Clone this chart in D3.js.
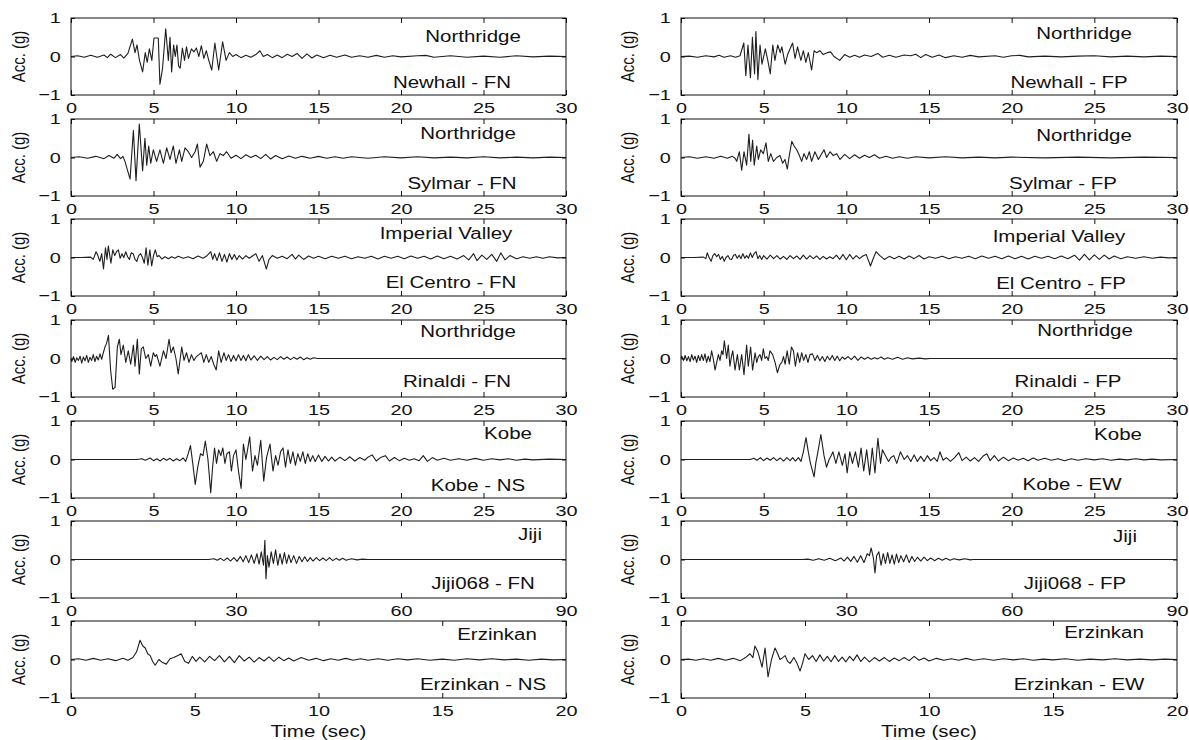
<!DOCTYPE html>
<html>
<head>
<meta charset="utf-8">
<script src="https://cdn.jsdelivr.net/npm/d3@7"></script>
<style>
  body { margin: 0; background: #fff; }
  svg text { font-family: "Liberation Sans", Arial, sans-serif; fill: #111; }
</style>
</head>
<body>
<div id="chart"></div>
<script>
// tick labels
var ticks30 = [0, 5, 10, 15, 20, 25, 30];
var ticks90 = [0, 30, 60, 90];
var ticks20 = [0, 5, 10, 15, 20];
var yTicks = [-1, 0, 1];

// records, [time (sec), acc (g)]
var newhallFN = [[0,0],[0.4,0.02],[0.8,-0.02],[1.2,0.03],[1.6,-0.02],[2.0,0.04],[2.2,-0.03],[2.4,0.06],[2.7,-0.03],[3.0,0.05],[3.2,-0.04],[3.45,0.08],[3.72,0.45],[3.88,0.1],[4.0,0.3],[4.15,-0.1],[4.34,-0.4],[4.5,0.1],[4.62,-0.15],[4.75,0.2],[4.9,-0.1],[5.03,0.48],[5.29,0.48],[5.39,-0.72],[5.55,-0.3],[5.74,0.72],[5.9,-0.1],[6.0,0.5],[6.1,-0.4],[6.22,0.3],[6.32,0.0],[6.42,0.3],[6.52,-0.25],[6.62,-0.3],[6.75,0.22],[6.88,-0.1],[7.0,0.25],[7.12,-0.05],[7.3,0.2],[7.45,0.12],[7.6,0.22],[7.75,0.0],[7.9,0.28],[8.05,-0.05],[8.2,0.15],[8.35,-0.1],[8.53,-0.35],[8.72,0.35],[8.95,-0.35],[9.19,0.38],[9.4,-0.1],[9.6,0.1],[9.8,0.0],[10.0,0.05],[10.3,-0.03],[10.6,0.03],[10.9,-0.02],[11.2,0.05],[11.45,0.15],[11.65,0.0],[11.9,0.05],[12.2,-0.03],[12.5,0.04],[12.8,-0.03],[13.1,0.06],[13.4,0.0],[13.7,0.08],[14.0,-0.05],[14.3,0.07],[14.6,-0.04],[14.9,0.04],[15.3,-0.03],[15.7,0.03],[16.1,-0.02],[16.6,0.04],[17.0,-0.02],[17.5,0.02],[18.0,-0.02],[18.5,0.03],[19.0,-0.02],[19.5,0.02],[20.0,-0.01],[21,0.02],[21.5,0.03],[22,-0.02],[23,0.02],[24,-0.02],[25,0.01],[26,-0.02],[27,0.02],[28,-0.01],[29,0.01],[30,0]];

var newhallFP = [[0,0],[0.5,0.01],[1.0,-0.02],[1.5,0.02],[2.0,-0.01],[2.3,0.03],[2.6,-0.02],[3.0,0.02],[3.3,-0.02],[3.57,0.02],[3.8,0.35],[3.92,-0.5],[4.05,0.3],[4.2,-0.55],[4.32,0.5],[4.45,-0.45],[4.53,0.65],[4.65,-0.6],[4.78,0.3],[4.9,-0.2],[5.1,0.2],[5.25,-0.1],[5.4,-0.45],[5.55,0.3],[5.68,-0.1],[5.85,0.3],[6.0,0.1],[6.1,0.25],[6.3,-0.2],[6.45,0.05],[6.6,0.2],[6.75,0.35],[6.9,-0.05],[7.05,0.25],[7.25,-0.1],[7.4,0.15],[7.55,-0.15],[7.7,0.1],[7.9,-0.35],[8.05,0.15],[8.2,0.1],[8.4,0.15],[8.6,0.05],[8.85,0.1],[9.05,0.12],[9.25,0.0],[9.6,-0.1],[9.9,0.05],[10.2,-0.02],[10.5,0.03],[10.8,-0.02],[11.1,0.04],[11.5,0.0],[11.9,0.08],[12.2,-0.02],[12.6,0.03],[13.0,-0.02],[13.5,0.04],[13.9,0.02],[14.2,0.06],[14.5,-0.03],[14.8,0.05],[15.2,-0.02],[15.6,0.04],[16.0,-0.03],[16.5,0.02],[17,-0.02],[17.5,0.03],[18,-0.01],[19,0.02],[19.5,-0.02],[20,0.02],[20.5,0.03],[21,-0.01],[22,0.01],[23,-0.01],[24,0.01],[25,0.02],[26,-0.01],[27,0.01],[28,-0.01],[29,0.01],[30,0]];

var sylmarFN = [[0,0],[0.5,0.02],[1.0,-0.02],[1.5,0.03],[2.0,-0.03],[2.3,0.05],[2.6,-0.02],[2.8,0.08],[3.0,-0.03],[3.15,0.03],[3.27,-0.1],[3.58,-0.56],[3.78,0.7],[3.94,-0.6],[4.14,0.87],[4.34,-0.34],[4.48,0.5],[4.59,-0.2],[4.71,0.3],[4.83,-0.15],[4.99,0.2],[5.19,-0.1],[5.39,0.2],[5.6,-0.15],[5.8,0.25],[6.0,-0.05],[6.2,0.3],[6.36,-0.15],[6.57,0.2],[6.71,-0.1],[6.91,0.25],[7.11,0.15],[7.31,0.0],[7.52,0.15],[7.66,0.35],[7.82,-0.25],[8.02,-0.1],[8.22,0.35],[8.42,0.05],[8.63,0.15],[8.83,-0.1],[9.03,0.1],[9.23,0.05],[9.43,0.15],[9.7,-0.02],[10.0,0.06],[10.3,-0.03],[10.6,0.07],[10.9,0.0],[11.2,0.06],[11.5,-0.03],[11.8,0.08],[12.1,-0.04],[12.4,0.05],[12.8,-0.03],[13.2,0.04],[13.6,-0.02],[14.0,0.03],[14.5,-0.02],[15.0,0.03],[15.5,-0.02],[16,0.02],[16.5,-0.02],[17,0.02],[18,-0.02],[19,0.02],[20,-0.01],[21,0.02],[22,-0.01],[23,0.01],[24,-0.01],[25,0.02],[26,-0.01],[27,0.01],[28,-0.01],[29,0.01],[30,0]];

var sylmarFP = [[0,0],[0.5,0.02],[1.0,-0.02],[1.5,0.02],[2.0,-0.02],[2.4,0.03],[2.8,-0.02],[3.1,0.03],[3.27,-0.02],[3.37,-0.1],[3.53,0.15],[3.67,-0.33],[3.81,0.15],[3.97,-0.2],[4.11,0.6],[4.22,-0.1],[4.33,0.45],[4.43,-0.2],[4.58,0.3],[4.68,-0.05],[4.82,0.2],[4.98,0.1],[5.14,0.38],[5.28,-0.1],[5.43,0.1],[5.59,-0.1],[5.79,0.0],[5.99,0.05],[6.15,-0.15],[6.29,-0.05],[6.43,-0.3],[6.55,0.05],[6.7,0.42],[6.84,0.3],[7.0,0.2],[7.16,0.05],[7.3,-0.1],[7.44,0.1],[7.6,-0.05],[7.76,0.15],[7.9,-0.1],[8.1,0.15],[8.31,-0.05],[8.51,0.1],[8.65,0.2],[8.81,0.0],[9.01,0.15],[9.21,0.05],[9.42,0.1],[9.62,-0.05],[9.9,0.08],[10.2,-0.03],[10.5,0.07],[10.8,-0.02],[11.1,0.06],[11.4,0.0],[11.7,0.07],[12.0,-0.02],[12.4,0.03],[12.8,-0.02],[13.2,0.02],[13.7,-0.02],[14.2,0.02],[15,-0.01],[16,0.02],[17,-0.01],[18,0.01],[19,-0.01],[20,0.01],[22,-0.01],[24,0.01],[26,-0.01],[28,0.01],[30,0]];

var elCentroFN = [[0,0],[0.6,0],[1.19,0.01],[1.35,-0.05],[1.52,0.15],[1.63,0.05],[1.75,-0.1],[1.86,0.1],[1.97,-0.3],[2.09,0.25],[2.18,-0.05],[2.26,0.3],[2.42,-0.15],[2.53,0.2],[2.65,0.05],[2.76,0.15],[2.87,0.2],[2.98,-0.02],[3.09,0.1],[3.2,0.0],[3.32,0.15],[3.43,0.02],[3.54,-0.05],[3.65,0.12],[3.77,0.1],[3.88,-0.05],[3.99,-0.1],[4.1,0.05],[4.22,0.1],[4.33,0.0],[4.44,-0.15],[4.55,0.25],[4.66,-0.2],[4.78,0.2],[4.89,-0.22],[5.0,0.05],[5.11,0.2],[5.22,0.02],[5.34,0.05],[5.5,-0.04],[5.7,0.02],[5.9,-0.03],[6.1,0.02],[6.3,-0.02],[6.5,0.03],[6.8,-0.02],[7.1,0.02],[7.4,-0.03],[7.7,0.04],[8.0,-0.02],[8.2,0.03],[8.47,0.15],[8.59,-0.05],[8.7,0.1],[8.85,-0.08],[9.0,0.12],[9.15,-0.1],[9.3,0.08],[9.45,-0.12],[9.6,0.1],[9.75,-0.05],[9.9,0.08],[10.05,-0.06],[10.2,0.05],[10.4,-0.04],[10.6,0.05],[10.8,-0.02],[11.0,0.04],[11.2,0.1],[11.4,-0.1],[11.6,0.05],[11.84,-0.3],[12.0,-0.05],[12.2,0.05],[12.5,-0.02],[12.8,0.03],[13.1,-0.03],[13.4,0.08],[13.6,-0.04],[13.8,0.06],[14.1,-0.05],[14.4,0.04],[14.7,-0.02],[15.0,0.03],[15.4,-0.03],[15.8,0.03],[16.2,-0.02],[16.6,0.03],[17.0,-0.03],[17.4,0.02],[17.8,-0.02],[18.2,0.03],[18.6,-0.04],[19.0,0.03],[19.4,-0.02],[19.8,0.03],[20.2,-0.03],[20.6,0.04],[21.0,-0.02],[21.4,0.03],[21.8,-0.04],[22.2,0.04],[22.6,-0.03],[23.0,0.03],[23.4,-0.04],[23.8,0.05],[24.1,-0.06],[24.4,0.1],[24.6,-0.08],[24.9,0.06],[25.2,-0.05],[25.5,0.08],[25.8,-0.1],[26.05,0.12],[26.3,-0.06],[26.6,0.05],[27.0,-0.03],[27.4,0.02],[27.8,-0.02],[28.2,0.02],[28.6,-0.02],[29.0,0.02],[29.5,-0.01],[30,0]];

var elCentroFP = [[0,0],[0.8,0],[1.36,0.01],[1.5,-0.03],[1.59,0.12],[1.7,0.0],[1.82,-0.1],[1.93,0.05],[2.04,0.1],[2.16,0.02],[2.27,0.08],[2.38,-0.05],[2.5,0.03],[2.61,-0.1],[2.72,0.0],[2.84,0.05],[2.95,-0.04],[3.06,-0.05],[3.18,0.06],[3.29,0.08],[3.4,-0.02],[3.52,0.06],[3.63,-0.03],[3.74,0.1],[3.86,-0.02],[3.97,0.05],[4.08,-0.02],[4.2,0.12],[4.31,0.0],[4.42,0.1],[4.54,0.15],[4.65,-0.03],[4.76,0.05],[4.88,-0.05],[5.0,0.05],[5.2,-0.04],[5.4,0.06],[5.6,-0.03],[5.8,0.05],[6.0,-0.04],[6.2,0.03],[6.4,-0.05],[6.6,0.05],[6.8,-0.03],[7.0,0.04],[7.2,-0.05],[7.4,0.06],[7.6,-0.04],[7.8,0.05],[8.0,-0.03],[8.2,0.04],[8.4,-0.05],[8.6,0.03],[8.8,-0.04],[9.0,0.02],[9.2,-0.03],[9.4,0.06],[9.6,-0.05],[9.8,0.08],[10.0,-0.06],[10.2,0.08],[10.4,-0.04],[10.6,0.05],[10.8,-0.03],[11.0,0.04],[11.2,0.08],[11.46,-0.22],[11.65,0.0],[11.8,0.15],[12.03,0.05],[12.3,-0.05],[12.6,0.03],[12.9,-0.03],[13.2,0.03],[13.5,-0.04],[13.8,0.04],[14.1,-0.03],[14.4,0.05],[14.7,-0.04],[15.0,0.02],[15.4,-0.02],[15.8,0.03],[16.2,-0.03],[16.6,0.02],[17.0,-0.02],[17.4,0.03],[17.8,-0.03],[18.2,0.04],[18.6,-0.02],[19.0,0.03],[19.4,-0.03],[19.8,0.04],[20.2,-0.03],[20.6,0.03],[21.0,-0.04],[21.4,0.03],[21.8,-0.02],[22.2,0.03],[22.6,-0.03],[23.0,0.04],[23.4,-0.03],[23.8,0.06],[24.1,-0.07],[24.4,0.08],[24.7,-0.06],[25.0,0.07],[25.3,-0.05],[25.6,0.06],[25.9,-0.04],[26.2,0.04],[26.6,-0.03],[27.0,0.02],[27.5,-0.02],[28,0.02],[28.5,-0.02],[29,0.01],[29.5,-0.01],[30,0]];

var rinaldiFN = [[0,0],[0.05,-0.08],[0.15,0.05],[0.25,-0.1],[0.35,0.02],[0.45,-0.05],[0.55,0.06],[0.65,-0.12],[0.75,0.04],[0.85,-0.06],[0.95,0.08],[1.05,-0.1],[1.15,0.03],[1.25,-0.05],[1.35,0.1],[1.45,-0.08],[1.55,0.06],[1.65,-0.04],[1.76,0.12],[1.86,-0.02],[1.96,0.15],[2.06,0.3],[2.16,0.4],[2.27,0.6],[2.4,-0.3],[2.53,-0.8],[2.67,-0.75],[2.81,0.3],[2.93,0.5],[3.03,0.1],[3.17,0.35],[3.32,-0.1],[3.47,0.2],[3.62,-0.15],[3.78,0.35],[3.88,-0.2],[4.02,0.5],[4.14,-0.4],[4.26,0.25],[4.38,0.3],[4.53,0.0],[4.69,0.1],[4.83,-0.2],[4.99,0.15],[5.1,0.05],[5.19,0.1],[5.39,-0.2],[5.6,0.2],[5.76,0.0],[5.94,0.5],[6.06,0.15],[6.2,0.3],[6.36,0.0],[6.5,-0.4],[6.71,0.3],[6.85,-0.05],[7.0,0.15],[7.15,-0.1],[7.3,0.1],[7.45,-0.05],[7.6,0.05],[7.75,0.1],[7.9,0.15],[8.05,-0.1],[8.2,0.1],[8.35,-0.1],[8.5,0.05],[8.65,-0.15],[8.8,-0.3],[8.95,0.2],[9.1,-0.1],[9.27,0.15],[9.4,-0.05],[9.55,0.1],[9.7,-0.08],[9.85,0.08],[10.0,-0.06],[10.15,0.1],[10.3,-0.05],[10.45,0.08],[10.6,-0.06],[10.75,0.1],[10.9,-0.04],[11.1,0.07],[11.3,-0.05],[11.5,0.06],[11.7,-0.03],[11.9,0.05],[12.1,-0.04],[12.3,0.03],[12.5,-0.03],[12.7,0.05],[12.9,-0.02],[13.1,0.04],[13.3,-0.03],[13.5,0.03],[13.7,-0.02],[13.9,0.04],[14.1,-0.03],[14.3,0.02],[14.5,-0.02],[14.7,0.02],[14.95,0],[30,0]];

var rinaldiFP = [[0,0],[0.05,0.06],[0.15,-0.05],[0.25,0.08],[0.35,-0.06],[0.45,0.05],[0.55,-0.08],[0.65,0.1],[0.75,-0.04],[0.85,0.06],[0.95,-0.1],[1.05,0.08],[1.15,-0.06],[1.25,0.1],[1.35,-0.05],[1.45,0.12],[1.55,-0.1],[1.65,0.06],[1.75,-0.08],[1.85,0.2],[1.95,0.0],[2.06,-0.3],[2.16,-0.1],[2.26,0.1],[2.36,-0.05],[2.46,0.2],[2.54,0.1],[2.62,0.46],[2.76,0.0],[2.86,0.35],[2.96,-0.2],[3.05,0.05],[3.13,0.2],[3.27,-0.3],[3.41,0.1],[3.53,-0.3],[3.67,0.1],[3.81,-0.42],[3.97,0.35],[4.07,-0.2],[4.21,0.3],[4.33,-0.3],[4.48,0.15],[4.58,-0.1],[4.68,0.05],[4.78,0.1],[4.88,-0.05],[4.98,0.25],[5.08,0.0],[5.18,0.05],[5.28,-0.05],[5.38,0.2],[5.54,0.1],[5.69,-0.1],[5.83,-0.37],[5.99,-0.15],[6.1,-0.1],[6.2,0.05],[6.3,-0.15],[6.42,0.2],[6.55,-0.15],[6.68,0.3],[6.8,0.2],[6.92,-0.2],[7.05,0.15],[7.18,-0.1],[7.3,0.15],[7.42,-0.05],[7.55,0.1],[7.68,-0.1],[7.8,0.1],[7.95,0.12],[8.1,-0.05],[8.25,0.08],[8.4,-0.06],[8.55,0.05],[8.7,-0.08],[8.85,0.06],[9.0,-0.04],[9.15,0.08],[9.3,-0.05],[9.45,0.06],[9.6,-0.06],[9.75,0.04],[9.9,-0.02],[10.1,0.05],[10.3,-0.03],[10.5,0.06],[10.7,-0.05],[10.9,0.04],[11.1,-0.02],[11.3,0.03],[11.5,-0.02],[11.7,0.02],[11.9,-0.01],[12.1,0.04],[12.3,-0.02],[12.5,0.02],[12.8,-0.02],[13.1,0.03],[13.4,-0.02],[13.7,0.02],[14.0,-0.01],[14.4,0.01],[14.8,-0.01],[15.05,0],[30,0]];

var kobeNS = [[0,0],[4.0,0],[4.3,0.02],[4.5,-0.02],[4.8,0.04],[5.0,-0.03],[5.2,0.02],[5.4,-0.04],[5.6,0.03],[5.8,-0.02],[6.0,0.03],[6.2,-0.04],[6.4,0.02],[6.6,-0.03],[6.8,0.04],[6.95,-0.05],[7.1,0.15],[7.24,0.36],[7.38,-0.1],[7.53,-0.65],[7.68,-0.2],[7.85,0.15],[8.0,0.1],[8.14,0.48],[8.3,0.0],[8.47,-0.86],[8.58,-0.2],[8.7,0.3],[8.82,-0.1],[8.95,0.25],[9.08,0.1],[9.2,0.3],[9.33,-0.1],[9.45,0.15],[9.6,0.2],[9.72,-0.3],[9.85,0.1],[10.0,0.25],[10.15,-0.3],[10.31,-0.75],[10.45,0.4],[10.6,0.0],[10.83,0.59],[11.0,-0.3],[11.15,0.1],[11.3,-0.15],[11.5,0.5],[11.68,-0.56],[11.85,0.05],[12.06,0.4],[12.24,-0.3],[12.4,0.1],[12.55,-0.15],[12.7,0.2],[12.85,0.3],[13.0,-0.2],[13.15,0.25],[13.3,-0.1],[13.45,0.2],[13.6,-0.15],[13.75,0.15],[13.9,-0.05],[14.05,0.2],[14.2,-0.1],[14.35,0.15],[14.5,-0.05],[14.65,0.1],[14.8,-0.05],[15.0,0.12],[15.2,-0.05],[15.4,0.08],[15.6,-0.04],[15.8,0.06],[16.0,-0.04],[16.3,0.06],[16.6,-0.03],[16.9,0.07],[17.2,-0.04],[17.5,0.05],[17.8,-0.02],[18.0,0.06],[18.25,0.12],[18.5,-0.04],[18.8,0.06],[19.05,0.1],[19.3,-0.04],[19.6,0.05],[19.9,-0.03],[20.2,0.03],[20.5,-0.02],[20.8,0.02],[21.1,-0.03],[21.35,0.1],[21.6,-0.05],[21.9,0.05],[22.2,-0.02],[22.6,0.03],[23.0,-0.02],[23.5,0.02],[24,-0.02],[24.5,0.03],[25,-0.02],[25.5,0.02],[26,-0.01],[26.5,0.02],[27,-0.02],[27.5,0.01],[28,-0.01],[29,0.01],[30,0]];

var kobeEW = [[0,0],[4.2,0],[4.4,0.03],[4.6,-0.02],[4.8,0.05],[5.0,-0.03],[5.2,0.04],[5.4,-0.02],[5.6,0.05],[5.8,-0.03],[6.0,0.04],[6.2,-0.04],[6.4,0.05],[6.6,-0.03],[6.75,0.05],[6.92,-0.04],[7.1,0.05],[7.26,-0.05],[7.4,0.2],[7.56,0.57],[7.7,0.2],[7.83,-0.1],[8.05,-0.45],[8.15,-0.1],[8.28,0.2],[8.46,0.65],[8.65,0.1],[8.8,-0.2],[8.96,0.0],[9.08,0.1],[9.19,0.2],[9.37,-0.1],[9.55,0.2],[9.76,-0.15],[9.92,0.15],[10.05,-0.35],[10.21,0.2],[10.37,-0.1],[10.55,0.2],[10.73,-0.2],[10.89,0.3],[11.05,-0.3],[11.23,0.25],[11.41,-0.4],[11.57,0.3],[11.73,-0.35],[11.91,0.55],[12.07,-0.1],[12.18,0.25],[12.37,0.1],[12.55,-0.05],[12.7,0.05],[12.87,0.1],[13.05,-0.1],[13.27,0.2],[13.5,0.0],[13.7,0.1],[13.9,-0.05],[14.1,0.12],[14.3,-0.05],[14.5,0.08],[14.7,-0.05],[14.9,0.1],[15.1,-0.03],[15.3,0.05],[15.5,-0.05],[15.66,0.2],[15.85,-0.02],[16.05,0.05],[16.3,-0.05],[16.55,0.05],[16.8,0.18],[17.0,-0.03],[17.25,0.06],[17.5,-0.04],[17.75,0.05],[18.0,-0.05],[18.3,0.1],[18.5,0.15],[18.7,-0.03],[18.95,0.1],[19.2,-0.04],[19.5,0.06],[19.8,-0.03],[20.1,0.04],[20.4,-0.02],[20.7,0.03],[21.0,-0.03],[21.3,0.04],[21.6,-0.02],[22.0,0.03],[22.4,-0.02],[22.8,0.02],[23.2,-0.03],[23.6,0.02],[24.0,-0.02],[24.5,0.02],[25,-0.01],[25.5,0.02],[26,-0.02],[26.5,0.01],[27,-0.01],[27.5,0.02],[28,-0.01],[28.5,0.01],[29,-0.01],[30,0]];

var jijiFN = [[0,0],[25,0],[26,0.02],[26.6,-0.02],[27.2,0.03],[27.8,-0.03],[28.4,0.04],[29,-0.04],[29.6,0.05],[30.2,-0.05],[30.8,0.08],[31.3,-0.06],[31.8,0.1],[32.3,-0.08],[32.8,0.12],[33.3,-0.1],[33.8,0.15],[34.2,-0.12],[34.6,0.2],[35.0,-0.15],[35.25,0.5],[35.45,-0.5],[35.7,0.1],[36.0,-0.2],[36.4,0.2],[36.8,-0.1],[37.2,0.25],[37.6,-0.15],[38.0,0.15],[38.4,-0.12],[38.8,0.18],[39.2,-0.1],[39.6,0.12],[40.0,-0.08],[40.5,0.1],[41.0,-0.1],[41.5,0.08],[42.0,-0.06],[42.5,0.07],[43.0,-0.05],[43.5,0.05],[44.0,-0.04],[44.6,0.05],[45.2,-0.03],[45.8,0.04],[46.4,-0.03],[47.0,0.05],[47.6,-0.03],[48.2,0.03],[48.8,-0.02],[49.4,0.03],[50.0,-0.02],[51,0.02],[52,-0.01],[53,0.01],[54,0],[90,0]];

var jijiFP = [[0,0],[22,0],[23,0.01],[24,-0.02],[25,0.02],[26,-0.02],[27,0.03],[28,-0.03],[29,0.04],[29.6,-0.04],[30.2,0.06],[30.8,-0.05],[31.4,0.08],[32.0,-0.07],[32.6,0.1],[33.2,-0.08],[33.8,0.15],[34.2,0.1],[34.5,0.3],[34.9,0.05],[35.2,-0.35],[35.5,0.1],[35.9,0.2],[36.3,-0.15],[36.7,0.15],[37.1,-0.1],[37.5,0.18],[37.9,-0.1],[38.3,0.12],[38.7,-0.12],[39.1,0.14],[39.5,-0.08],[39.9,0.1],[40.4,-0.06],[40.9,0.12],[41.4,-0.08],[41.9,0.08],[42.4,-0.05],[42.9,0.06],[43.5,-0.04],[44.1,0.06],[44.7,-0.03],[45.3,0.04],[46,-0.03],[46.7,0.03],[47.4,-0.02],[48.1,0.03],[48.8,-0.02],[49.5,0.02],[50.5,-0.01],[51.5,0.02],[52.5,-0.01],[53,0],[90,0]];

var erzinkanNS = [[0,0],[0.3,0.02],[0.6,-0.02],[0.9,0.03],[1.2,-0.02],[1.5,0.02],[1.8,-0.03],[2.1,0.03],[2.3,-0.02],[2.5,0.05],[2.65,0.2],[2.79,0.5],[2.9,0.35],[3.0,0.3],[3.1,0.15],[3.2,0.1],[3.3,-0.05],[3.4,-0.15],[3.55,0.0],[3.7,-0.08],[3.85,-0.12],[4.0,0.02],[4.15,0.05],[4.3,0.1],[4.45,0.15],[4.6,-0.05],[4.75,-0.1],[4.9,0.08],[5.05,-0.05],[5.2,0.06],[5.4,-0.06],[5.6,0.08],[5.8,-0.03],[6.0,0.1],[6.2,-0.06],[6.4,0.08],[6.6,-0.08],[6.8,0.1],[7.0,-0.04],[7.2,0.06],[7.4,-0.07],[7.6,0.05],[7.8,-0.04],[8.0,0.07],[8.2,-0.05],[8.4,0.06],[8.6,-0.03],[8.8,0.04],[9.0,-0.04],[9.3,0.05],[9.6,-0.02],[9.9,0.03],[10.2,-0.03],[10.5,0.02],[10.8,-0.02],[11.1,0.03],[11.4,-0.02],[11.7,0.02],[12,-0.02],[12.4,0.02],[12.8,-0.02],[13.2,0.02],[13.6,-0.01],[14,0.02],[14.5,-0.02],[15,0.01],[15.5,-0.02],[16,0.02],[16.5,-0.01],[17,0.02],[17.5,-0.01],[18,0.01],[18.5,-0.02],[19,0.01],[19.5,-0.01],[20,0]];

var erzinkanEW = [[0,0],[0.3,0.01],[0.6,-0.02],[0.9,0.02],[1.2,-0.02],[1.5,0.03],[1.8,-0.02],[2.1,0.03],[2.4,-0.03],[2.6,0.05],[2.78,0.15],[2.9,0.05],[2.98,0.35],[3.1,0.2],[3.27,-0.2],[3.39,0.3],[3.51,-0.45],[3.65,0.0],[3.79,0.3],[3.9,0.15],[3.99,0.0],[4.1,0.05],[4.2,0.1],[4.3,-0.05],[4.4,-0.1],[4.55,0.05],[4.68,-0.1],[4.8,-0.3],[4.9,-0.1],[5.0,0.15],[5.15,0.0],[5.3,0.1],[5.45,-0.05],[5.6,0.12],[5.75,-0.04],[5.9,0.08],[6.05,-0.06],[6.2,0.1],[6.35,-0.05],[6.5,0.06],[6.65,-0.06],[6.8,0.08],[6.95,-0.03],[7.1,0.12],[7.25,-0.05],[7.4,0.06],[7.6,-0.06],[7.8,0.05],[8.0,-0.04],[8.2,0.05],[8.4,-0.05],[8.6,0.04],[8.8,-0.03],[9.0,0.05],[9.2,-0.03],[9.4,0.08],[9.6,-0.02],[9.8,0.04],[10.0,-0.04],[10.3,0.03],[10.6,-0.02],[10.9,0.02],[11.2,-0.02],[11.5,0.03],[11.8,-0.02],[12.2,0.02],[12.6,-0.02],[13.0,0.02],[13.4,-0.01],[13.8,0.02],[14.2,-0.02],[14.6,0.01],[15,-0.01],[15.5,0.02],[16,-0.02],[16.5,0.01],[17,-0.01],[17.5,0.02],[18,-0.01],[18.5,0.01],[19,-0.01],[19.5,0.01],[20,0]];

var events = ["Northridge", "Northridge", "Imperial Valley", "Northridge", "Kobe", "Jiji", "Erzinkan"];
var stationsL = ["Newhall - FN", "Sylmar - FN", "El Centro - FN", "Rinaldi - FN", "Kobe - NS", "Jiji068 - FN", "Erzinkan - NS"];
var stationsR = ["Newhall - FP", "Sylmar - FP", "El Centro - FP", "Rinaldi - FP", "Kobe - EW", "Jiji068 - FP", "Erzinkan - EW"];
var recordsL = [newhallFN, sylmarFN, elCentroFN, rinaldiFN, kobeNS, jijiFN, erzinkanNS];
var recordsR = [newhallFP, sylmarFP, elCentroFP, rinaldiFP, kobeEW, jijiFP, erzinkanEW];
var rowTicks = [ticks30, ticks30, ticks30, ticks30, ticks30, ticks90, ticks20];

// layout
var width = 1189, height = 740;
var colX = [[71, 566], [681, 1177]];
var rowTop = [18, 119, 219, 320, 421, 521, 621];
var boxH = 77;
var stretch = 1.28;   // the figure's text is wide
// label centres [eventX, eventY, stationX, stationY]
var labelPosL = [[473,36,452,82],[468,133,462,183],[446,233,451,282],[468,331,457,381],[508,433,478,485],[530,534,483,583],[497,634,483,684]];
var labelPosR = [[1084,33,1069,82],[1084,135,1063,183],[1059,236,1061,283],[1085,330,1068,381],[1118,434,1072,484],[1125,536,1075,583],[1104,632,1079,684]];

var svg = d3.select("#chart").append("svg")
  .attr("width", width)
  .attr("height", height);

function wideText(g, x, y, txt, size) {
  g.append("text")
    .attr("transform", "translate(" + x + "," + y + ") scale(" + stretch + ",1)")
    .attr("text-anchor", "middle")
    .attr("dy", "0.35em")
    .style("font-size", size + "px")
    .text(txt);
}

function drawPanel(col, row, rec, station, pos) {
  var x0 = colX[col][0], x1 = colX[col][1];
  var y0 = rowTop[row];
  var ticks = rowTicks[row];
  var x = d3.scaleLinear().domain([0, ticks[ticks.length - 1]]).range([x0, x1]);
  var y = d3.scaleLinear().domain([-1, 1]).range([y0 + boxH, y0]);
  var g = svg.append("g");

  g.append("path")
    .datum(rec)
    .attr("fill", "none")
    .attr("stroke", "#1e1e1e")
    .attr("stroke-width", 1.1)
    .attr("stroke-linejoin", "round")
    .attr("d", d3.line().x(function (d) { return x(d[0]); }).y(function (d) { return y(d[1]); }));

  // bottom axis with labels, ticks point inward
  var bx = g.append("g")
    .attr("transform", "translate(0," + (y0 + boxH) + ")")
    .call(d3.axisBottom(x).tickValues(ticks).tickSizeInner(-5).tickSizeOuter(0).tickPadding(7).tickFormat(d3.format("d")));
  bx.selectAll("text")
    .attr("transform", "scale(" + stretch + ",1)")
    .style("font-size", "15.5px")
    .attr("fill", "#111");

  g.append("g")
    .attr("transform", "translate(0," + y0 + ")")
    .call(d3.axisTop(x).tickValues(ticks).tickSizeInner(-5).tickSizeOuter(0).tickFormat(""));

  var ly = g.append("g")
    .attr("transform", "translate(" + x0 + ",0)")
    .call(d3.axisLeft(y).tickValues(yTicks).tickSizeInner(-4).tickSizeOuter(0).tickPadding(8).tickFormat(d3.format("d")));
  ly.selectAll("text")
    .attr("transform", "scale(" + stretch + ",1)")
    .style("font-size", "15.5px")
    .attr("fill", "#111");

  g.append("g")
    .attr("transform", "translate(" + x1 + ",0)")
    .call(d3.axisRight(y).tickValues(yTicks).tickSizeInner(-4).tickSizeOuter(0).tickFormat(""));

  g.selectAll(".domain").remove();
  g.selectAll(".tick line").attr("stroke", "#111");

  g.append("rect")
    .attr("x", x0).attr("y", y0)
    .attr("width", x1 - x0).attr("height", boxH)
    .attr("fill", "none")
    .attr("stroke", "#111")
    .attr("stroke-width", 1);

  wideText(g, pos[0], pos[1], events[row], 16);
  wideText(g, pos[2], pos[3], station, 16);

  // y label
  g.append("text")
    .attr("transform", "translate(" + (col === 0 ? 18 : 627) + "," + y(0) + ") rotate(-90) scale(1," + stretch + ")")
    .attr("text-anchor", "middle")
    .attr("dy", "0.35em")
    .style("font-size", "15px")
    .text("Acc. (g)");
}

for (var r = 0; r < 7; r++) {
  drawPanel(0, r, recordsL[r], stationsL[r], labelPosL[r]);
  drawPanel(1, r, recordsR[r], stationsR[r], labelPosR[r]);
}

wideText(svg, (colX[0][0] + colX[0][1]) / 2, 731, "Time (sec)", 16);
wideText(svg, (colX[1][0] + colX[1][1]) / 2, 731, "Time (sec)", 16);
</script>
</body>
</html>
